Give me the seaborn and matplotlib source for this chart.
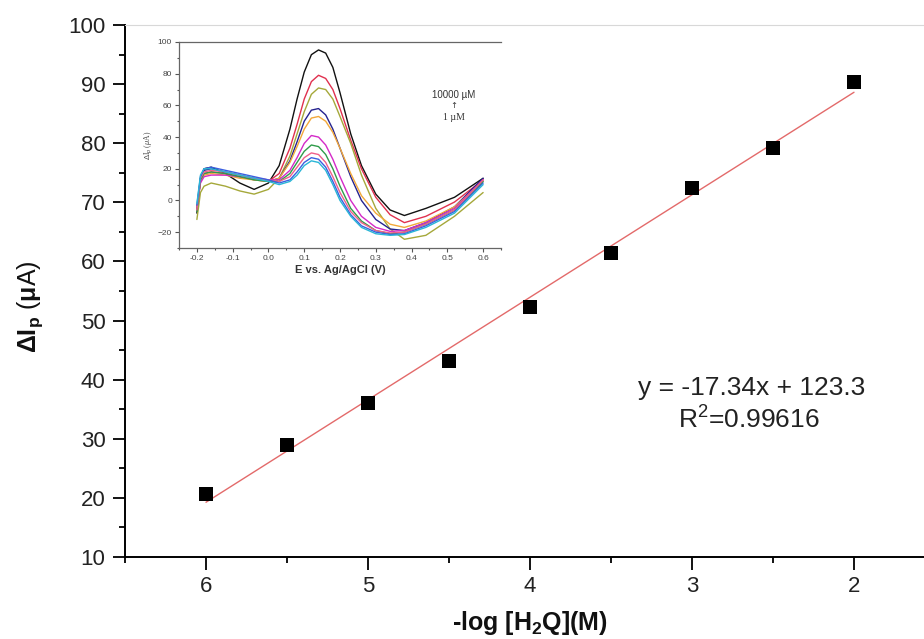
import matplotlib
matplotlib.use("Agg")
import matplotlib.pyplot as plt
import numpy as np
import pandas as pd
import seaborn as sns
from matplotlib.ticker import MultipleLocator

# Calibration data: peak current change vs. -log of hydroquinone concentration
neg_log_conc = [6.0, 5.5, 5.0, 4.5, 4.0, 3.5, 3.0, 2.5, 2.0]
delta_ip = [20.6, 29.0, 36.0, 43.2, 52.3, 61.5, 72.5, 79.2, 90.3]

# Linear regression reported on the plot
slope = -17.34
intercept = 123.3
r_squared = 0.99616
fit_range = [6.0, 2.0]

# Differential pulse voltammograms (inset), 1 uM ... 10000 uM
potential = [-0.20, -0.19, -0.18, -0.16, -0.12, -0.08, -0.04, 0.00, 0.03, 0.06,
             0.08, 0.10, 0.12, 0.14, 0.16, 0.18, 0.20, 0.23, 0.26, 0.30,
             0.34, 0.38, 0.44, 0.52, 0.60]
dpv_black = [-8, 14, 20, 21, 17, 11, 7, 11, 22, 45, 64, 81, 92, 95, 93, 84, 68, 42, 22, 4, -6, -9.5, -5, 2, 14]
dpv_red = [-6, 12, 17, 18, 17, 15, 13, 12, 17, 33, 48, 64, 75, 79, 77, 70, 58, 38, 20, 2, -9, -14, -10, -1, 13]
dpv_olive = [-12, 5, 9, 11, 9, 6, 4, 7, 14, 28, 42, 56, 67, 71, 70, 64, 53, 36, 16, -5, -18, -24.5, -22, -10, 5]
dpv_navy = [-5, 14, 19, 20, 18, 16, 14, 12, 14, 25, 37, 50, 57, 58, 54, 45, 33, 15, 0, -12, -18, -19, -14, -4, 14]
dpv_orange = [-4, 12, 16, 17, 16, 14, 13, 12, 14, 24, 34, 45, 52, 53, 50, 43, 33, 17, 3, -8, -15, -17, -13, -4, 12]
dpv_magenta = [-5, 11, 15, 16, 16, 15, 14, 13, 13, 19, 27, 36, 41, 40, 35, 26, 15, 0, -10, -17, -19.5, -19, -14, -5, 13]
dpv_green = [-7, 13, 17, 18, 17, 15, 13, 12, 12, 17, 24, 31, 35, 34, 29, 20, 9, -5, -13, -19, -21, -20, -15, -6, 12]
dpv_pink = [-6, 14, 18, 19, 18, 16, 14, 13, 12, 15, 21, 27, 30, 29, 24, 15, 5, -7, -14, -19, -20.5, -20, -15, -6, 13]
dpv_blue = [-3, 15, 20, 21, 19, 17, 15, 13, 11, 13, 18, 24, 27, 26, 21, 12, 2, -9, -16, -20, -21.5, -21, -16, -7, 11]
dpv_cyan = [-2, 16, 20, 20, 18, 16, 14, 12, 10, 12, 16, 22, 25, 24, 19, 10, 0, -10, -17, -21, -22, -21.5, -17, -8, 10]

dpv_series = [
    ("black", dpv_black, "#111111"),
    ("red", dpv_red, "#e0304e"),
    ("olive", dpv_olive, "#a5a83a"),
    ("navy", dpv_navy, "#25238f"),
    ("orange", dpv_orange, "#f2a83a"),
    ("magenta", dpv_magenta, "#d42ac8"),
    ("green", dpv_green, "#2f9c4a"),
    ("pink", dpv_pink, "#f0608a"),
    ("blue", dpv_blue, "#3a5fe0"),
    ("cyan", dpv_cyan, "#2ab6d6"),
]

sns.set_theme(style="ticks")
plt.rcParams["font.family"] = ["Liberation Sans", "DejaVu Sans"]
plt.rcParams["mathtext.fontset"] = "custom"
plt.rcParams["mathtext.rm"] = "Liberation Sans"
plt.rcParams["mathtext.it"] = "Liberation Sans:italic"
plt.rcParams["mathtext.bf"] = "Liberation Sans:bold"

W, H = 924, 639
fig = plt.figure(figsize=(W / 100, H / 100), dpi=100)
fig.patch.set_facecolor("white")

# ---- main calibration plot ----
ax = fig.add_axes([125 / W, 82 / H, 810 / W, 532 / H])
ax.set_facecolor("white")

fit_df = pd.DataFrame({"x": fit_range,
                       "y": [slope * v + intercept for v in fit_range]})
sns.lineplot(data=fit_df, x="x", y="y", ax=ax, color="#e36a6a", lw=1.0,
             sort=False, zorder=2)

pts = pd.DataFrame({"x": neg_log_conc, "y": delta_ip})
sns.scatterplot(data=pts, x="x", y="y", ax=ax, marker="s", s=105,
                color="black", edgecolor="black", linewidth=0, zorder=3)

ax.set_xlim(6.5, 1.5)
ax.set_ylim(10, 100)
ax.xaxis.set_major_locator(MultipleLocator(1))
ax.xaxis.set_minor_locator(MultipleLocator(0.5))
ax.yaxis.set_major_locator(MultipleLocator(10))
ax.yaxis.set_minor_locator(MultipleLocator(5))
ax.tick_params(axis="both", which="major", direction="out", length=9,
               width=1.3, labelsize=16, color="black", labelcolor="#222222", pad=5)
ax.tick_params(axis="both", which="minor", direction="out", length=4.5,
               width=1.3, color="black")
ax.tick_params(top=False, right=False)
for side in ("left", "bottom"):
    ax.spines[side].set_linewidth(1.4)
    ax.spines[side].set_color("black")
ax.spines["top"].set_color("#d8d8d8")
ax.spines["top"].set_linewidth(0.8)
ax.spines["right"].set_visible(False)

ax.set_xlabel(r"-log [H$_{\mathbf{2}}$Q](M)", fontsize=18, fontweight="bold",
              color="#111111")
ax.set_ylabel(r"$\mathbf{\Delta I_p}$ ($\mathbf{\mu}$A)", fontsize=18,
              color="#111111")
ax.xaxis.set_label_coords(0.5, -0.098)
ax.yaxis.set_label_coords(-0.099, 0.47)

ax.text(2.63, 38.6, "y = -17.34x + 123.3", ha="center", va="center",
        fontsize=19, color="#222222")
ax.text(2.65, 33.2, r"R$^2$=" + f"{r_squared:.5f}", ha="center", va="center",
        fontsize=19, color="#222222")

# ---- inset: voltammograms ----
ins = fig.add_axes([179 / W, (H - 248) / H, 322 / W, 206 / H])
ins.set_facecolor("white")
for name, vals, col in dpv_series:
    df = pd.DataFrame({"E": potential, "I": vals})
    sns.lineplot(data=df, x="E", y="I", ax=ins, color=col, lw=1.0, sort=False)
ins.set_xlim(-0.25, 0.65)
ins.set_ylim(-30, 100)
ins.xaxis.set_minor_locator(MultipleLocator(0.05))
ins.yaxis.set_major_locator(MultipleLocator(20))
ins.yaxis.set_minor_locator(MultipleLocator(10))
ins.set_xticks(np.round(np.arange(-0.2, 0.61, 0.1), 1))
ins.set_xticklabels([f"{v:.1f}" for v in np.arange(-0.2, 0.61, 0.1)])
ins.tick_params(axis="both", which="major", direction="out", length=3,
                width=0.8, labelsize=6, color="#555555", labelcolor="#444444", pad=2)
ins.tick_params(axis="both", which="minor", direction="out", length=1.6,
                width=0.8, color="#555555")
for side in ins.spines:
    ins.spines[side].set_color("#666666")
    ins.spines[side].set_linewidth(0.9)
ins.spines["right"].set_visible(False)
ins.set_xlabel("E vs. Ag/AgCl (V)", fontsize=8, fontweight="bold",
               color="#333333", labelpad=2)
ins.set_ylabel(r"$\Delta$I$_p$ ($\mu$A)", fontsize=5.5, color="#444444",
               family=["Liberation Serif", "DejaVu Serif"], labelpad=3)
ins.text(0.518, 66.5, "10000 µM", ha="center", va="center", fontsize=7,
         color="#333333")
ins.text(0.518, 60, "↑", ha="center", va="center", fontsize=6,
         color="#333333", family=["DejaVu Sans"])
ins.text(0.518, 52.5, "1 µM", ha="center", va="center", fontsize=7,
         color="#333333", family=["Liberation Serif", "DejaVu Serif"])

fig.savefig("out.png", dpi=100, facecolor="white")
